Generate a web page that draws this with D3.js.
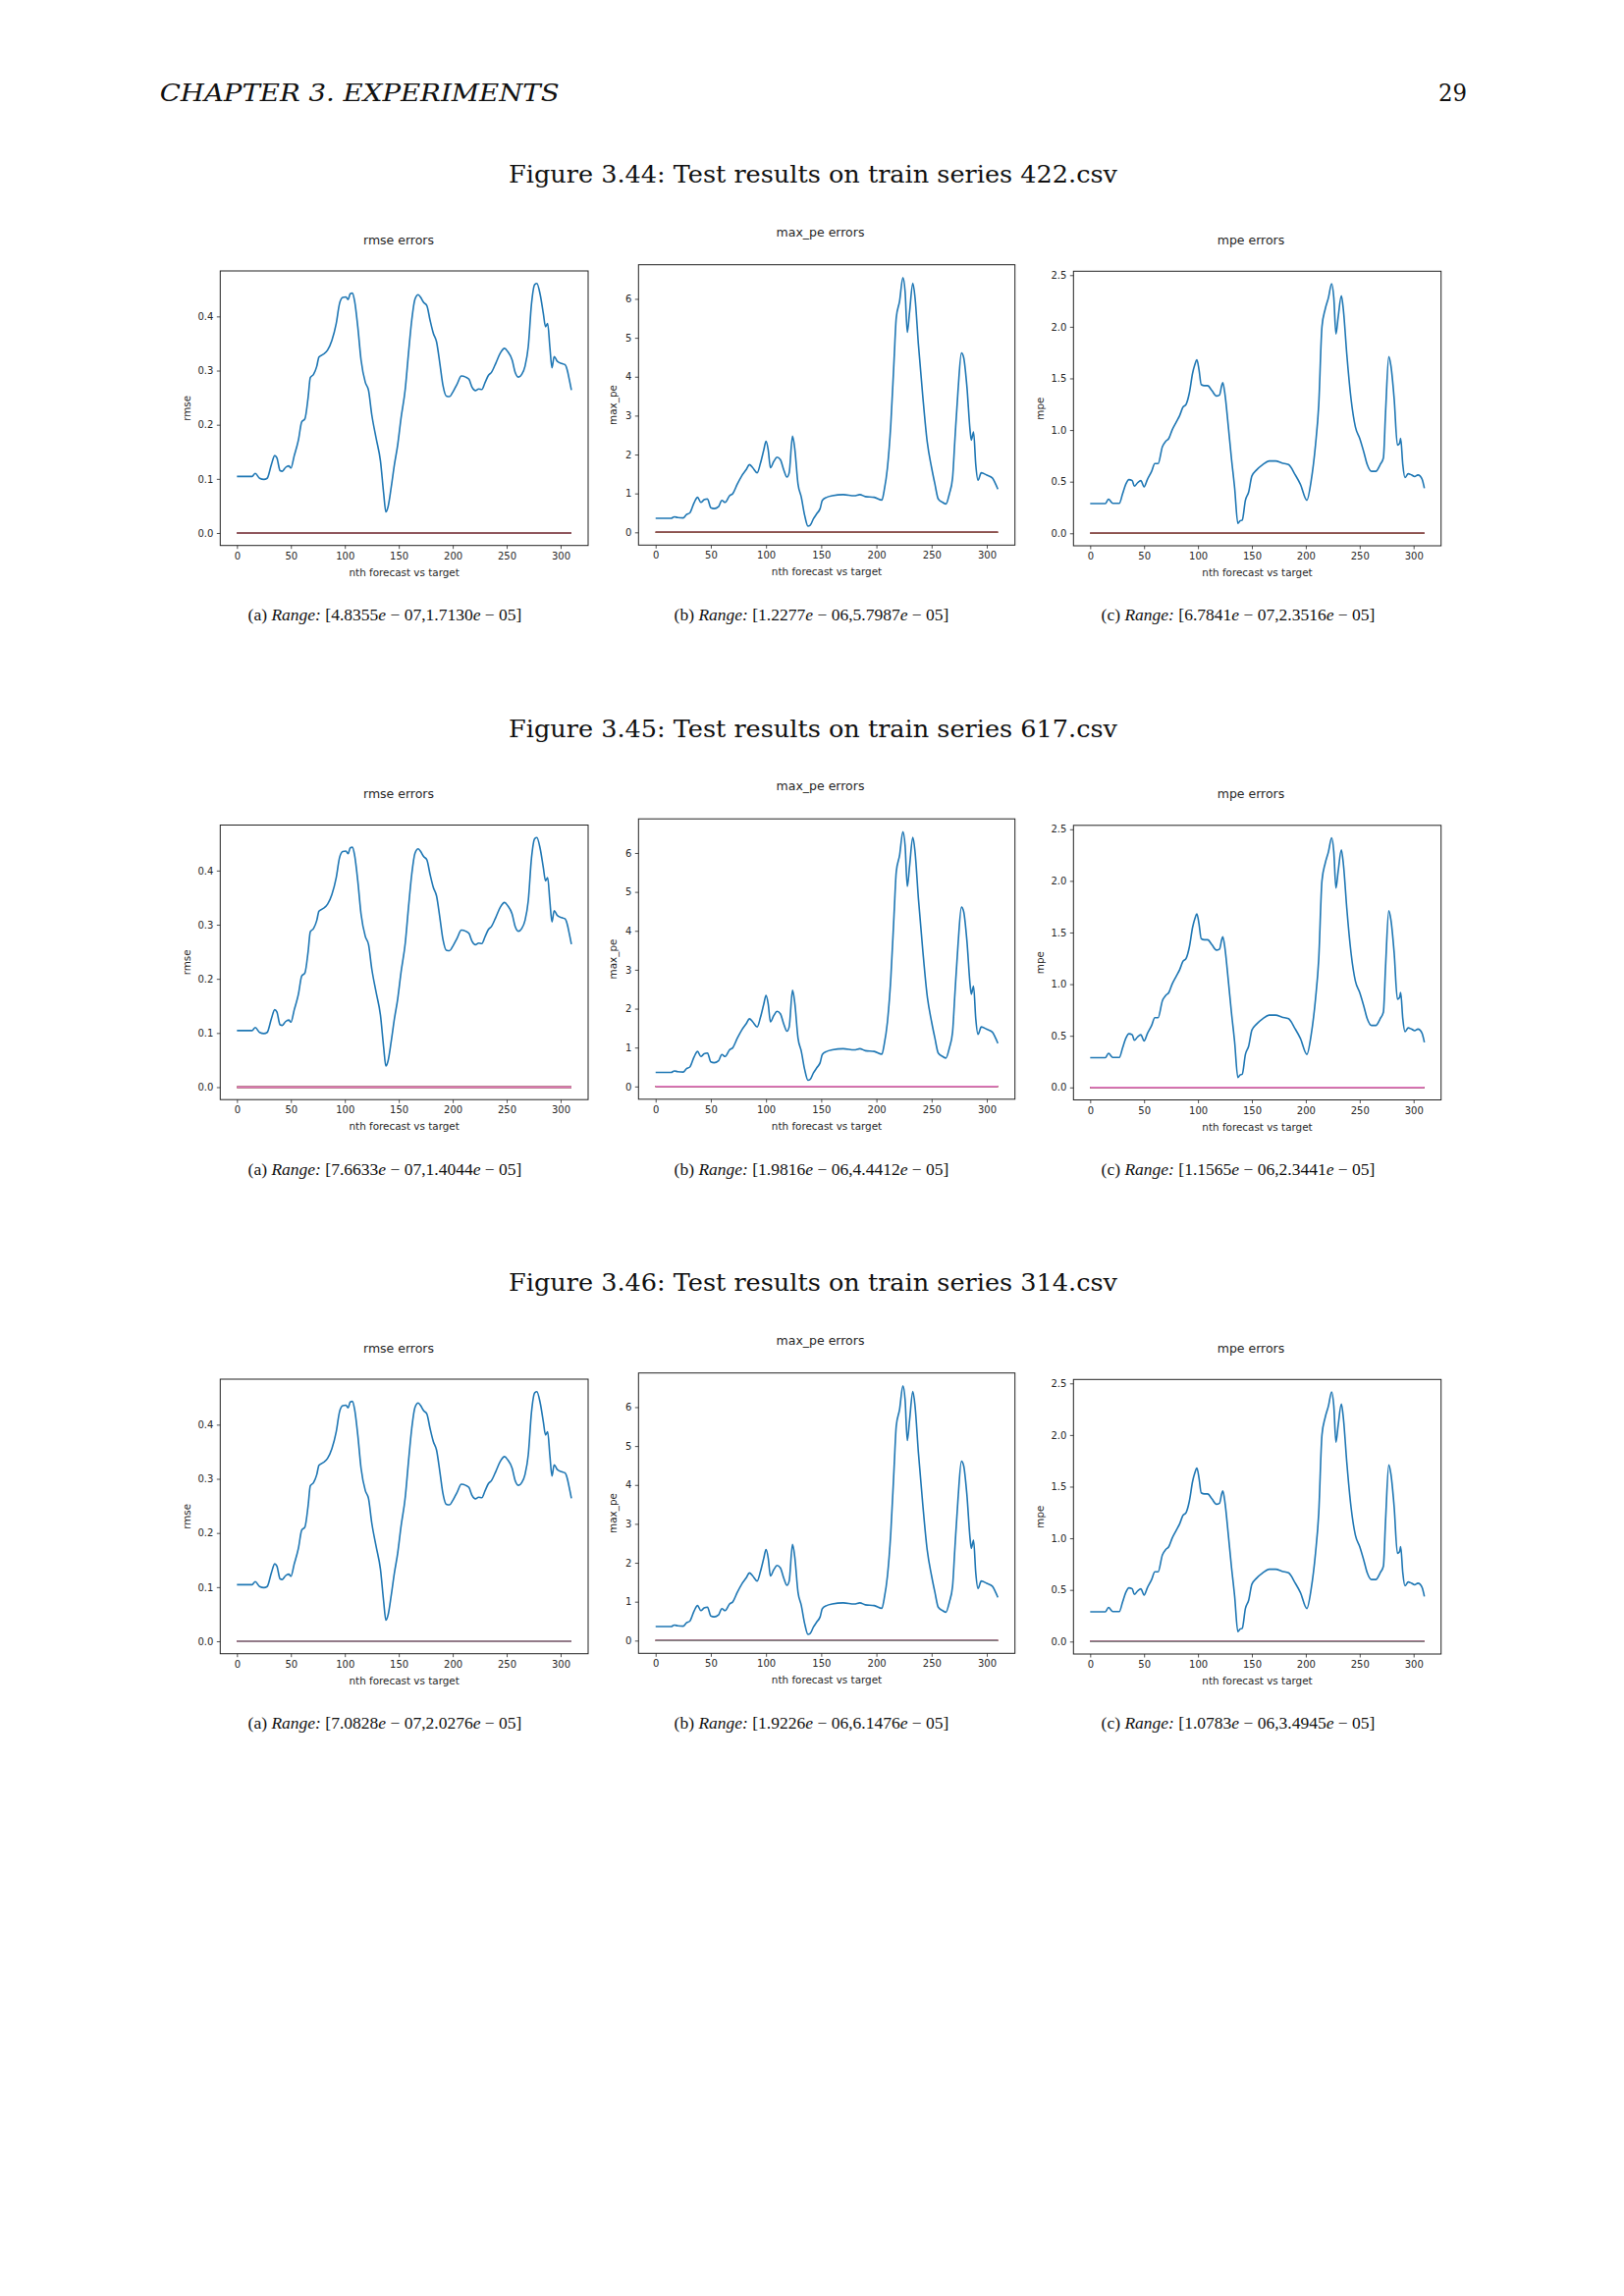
<!DOCTYPE html>
<html>
<head>
<meta charset="utf-8">
<script src="https://cdn.jsdelivr.net/npm/d3@7"></script>
<style>
  body { margin: 0; background: #fff; }
  svg { display: block; }
  .tick text { font-family: "DejaVu Sans", sans-serif; font-size: 10px; fill: #262626; }
  .tick line { stroke: #262626; stroke-width: 0.8; }
  .mpl { font-family: "DejaVu Sans", sans-serif; fill: #262626; }
  .tex { font-family: "DejaVu Serif", serif; fill: #111; }
  .sub { font-family: "Liberation Serif", "Times New Roman", serif; fill: #111; }
</style>
</head>
<body>
<div id="page"></div>
<script>
// page size
const width = 1654;
const height = 2339;

// --- data (same three curves on every figure) ---
const rmseData = [
  [0,0.1045],[14,0.1045],[17,0.110],[21,0.101],[25,0.099],[28,0.101],[32,0.127],[35,0.143],
  [37,0.139],[40,0.115],[42,0.114],[45,0.121],[48,0.124],[50,0.120],[53,0.142],[57,0.172],
  [60,0.205],[63,0.211],[66,0.251],[68,0.287],[71,0.293],[74,0.308],[76,0.325],[80,0.330],
  [84,0.338],[88,0.356],[92,0.387],[95,0.423],[98,0.435],[101,0.436],[103,0.431],[105,0.442],
  [107,0.443],[109,0.429],[112,0.381],[115,0.320],[119,0.278],[122,0.263],[125,0.218],[129,0.175],
  [133,0.133],[136,0.073],[138,0.039],[140,0.048],[143,0.085],[146,0.127],[149,0.163],[152,0.211],
  [156,0.266],[159,0.332],[162,0.393],[165,0.432],[168,0.440],[170,0.436],[173,0.426],[176,0.420],
  [179,0.393],[182,0.369],[185,0.353],[188,0.314],[191,0.272],[194,0.253],[197,0.252],[200,0.260],
  [204,0.275],[208,0.290],[212,0.288],[215,0.284],[218,0.269],[221,0.263],[224,0.266],[227,0.265],
  [230,0.278],[233,0.291],[236,0.297],[240,0.314],[244,0.332],[248,0.341],[251,0.335],[255,0.320],
  [258,0.296],[261,0.288],[264,0.293],[267,0.308],[270,0.344],[273,0.423],[276,0.459],[278,0.461],
  [281,0.441],[284,0.405],[286,0.381],[288,0.387],[290,0.344],[292,0.305],[294,0.326],[297,0.317],
  [301,0.313],[304,0.311],[306,0.302],[308,0.284],[310,0.264]
];

const maxPeData = [
  [0,0.36],[14,0.36],[17,0.40],[20,0.38],[25,0.37],[28,0.46],[31,0.50],[35,0.77],[38,0.90],
  [41,0.77],[44,0.84],[47,0.86],[50,0.63],[53,0.61],[57,0.66],[60,0.82],[63,0.77],[67,0.94],
  [70,1.00],[74,1.24],[78,1.45],[82,1.61],[85,1.74],[88,1.66],[92,1.53],[95,1.78],[98,2.12],
  [100,2.34],[102,2.12],[104,1.66],[107,1.82],[110,1.93],[113,1.87],[116,1.61],[119,1.42],
  [121,1.53],[124,2.47],[126,2.16],[129,1.24],[132,0.90],[135,0.44],[138,0.16],[140,0.18],
  [143,0.35],[146,0.48],[149,0.61],[151,0.82],[155,0.90],[160,0.94],[170,0.97],[180,0.94],
  [185,0.97],[190,0.92],[198,0.90],[205,0.83],[207,1.07],[210,1.66],[213,2.75],[216,4.43],
  [218,5.52],[221,5.94],[224,6.55],[226,6.19],[228,5.14],[230,5.65],[233,6.40],[235,6.03],
  [238,4.85],[242,3.50],[246,2.33],[250,1.66],[253,1.24],[256,0.86],[260,0.77],[263,0.73],
  [266,0.98],[269,1.40],[271,2.33],[274,3.67],[277,4.61],[279,4.50],[282,3.74],[285,2.58],
  [286,2.37],[288,2.58],[290,1.74],[292,1.34],[295,1.53],[300,1.47],[305,1.40],[308,1.24],[310,1.11]
];

const mpeData = [
  [0,0.288],[14,0.288],[17,0.33],[21,0.29],[27,0.29],[30,0.38],[33,0.475],[36,0.52],[39,0.51],
  [41,0.456],[44,0.49],[47,0.51],[50,0.45],[53,0.52],[57,0.60],[60,0.675],[63,0.675],[67,0.84],
  [70,0.89],[73,0.92],[76,1.00],[80,1.08],[83,1.14],[86,1.22],[89,1.25],[92,1.36],[95,1.55],
  [97,1.63],[99,1.68],[101,1.58],[103,1.44],[106,1.43],[109,1.43],[113,1.38],[117,1.33],
  [120,1.34],[122,1.43],[123,1.46],[125,1.35],[128,1.05],[131,0.73],[134,0.44],[137,0.095],
  [139,0.12],[141,0.127],[144,0.32],[147,0.40],[150,0.555],[154,0.61],[160,0.665],[166,0.70],
  [172,0.70],[178,0.68],[184,0.665],[190,0.57],[195,0.475],[201,0.32],[205,0.51],[209,0.855],
  [212,1.24],[215,2.00],[218,2.17],[221,2.28],[224,2.417],[226,2.28],[228,1.93],[230,2.09],
  [233,2.30],[235,2.15],[238,1.74],[242,1.30],[246,1.03],[250,0.92],[254,0.78],[257,0.665],
  [261,0.60],[265,0.60],[269,0.665],[272,0.73],[274,1.17],[277,1.71],[279,1.62],[282,1.30],
  [285,0.855],[287,0.87],[288,0.92],[290,0.665],[292,0.54],[295,0.577],[298,0.565],[301,0.55],
  [304,0.565],[306,0.555],[308,0.52],[310,0.437]
];

// near-zero series drawn along the bottom (start / end of the forecast index)
const zeroSeries = [[0, 0], [310, 0]];

// figures on the page
const figureNumbers = ["3.44", "3.45", "3.46"];
const seriesFiles = ["422.csv", "617.csv", "314.csv"];
const zeroSeriesCount = [5, 6, 7];   // lines lying on 0 (the last one is on top)
const rangesA = [["4.8355","07","1.7130","05"], ["7.6633","07","1.4044","05"], ["7.0828","07","2.0276","05"]];
const rangesB = [["1.2277","06","5.7987","05"], ["1.9816","06","4.4412","05"], ["1.9226","06","6.1476","05"]];
const rangesC = [["6.7841","07","2.3516","05"], ["1.1565","06","2.3441","05"], ["1.0783","06","3.4945","05"]];

// panels (metric names, ticks)
const panelNames = ["rmse", "max_pe", "mpe"];
const panelLetters = ["a", "b", "c"];
const rmseTicks = [0, 0.1, 0.2, 0.3, 0.4];
const maxPeTicks = [0, 1, 2, 3, 4, 5, 6];
const mpeTicks = [0, 0.5, 1.0, 1.5, 2.0, 2.5];
const xTicks = [0, 50, 100, 150, 200, 250, 300];

// --- layout (first row; the other rows are shifted down) ---
const rowStep = 564.5;
const panelBoxes = [
  { left: 224.3, right: 599.0, top: 276.0, bottom: 555.7, titleX: 406, titleY: 248.5, ylabX: 194, capX: 392 },
  { left: 650.3, right: 1033.7, top: 269.7, bottom: 555.3, titleX: 835.5, titleY: 240.5, ylabX: 628, capX: 826.5 },
  { left: 1093.3, right: 1467.7, top: 276.3, bottom: 556.0, titleX: 1274, titleY: 248.5, ylabX: 1063, capX: 1261 }
];

const colors = d3.schemeCategory10;

const svg = d3.select("#page")
  .append("svg")
  .attr("width", width)
  .attr("height", height);

svg.append("rect").attr("width", width).attr("height", height).attr("fill", "#fff");

// running head
svg.append("text")
  .attr("class", "tex")
  .attr("x", 162.7).attr("y", 103)
  .attr("font-size", 25)
  .attr("font-style", "italic")
  .attr("textLength", 407)
  .attr("lengthAdjust", "spacingAndGlyphs")
  .text("CHAPTER 3.  EXPERIMENTS");

svg.append("text")
  .attr("class", "tex")
  .attr("x", 1494).attr("y", 103)
  .attr("text-anchor", "end")
  .attr("font-size", 25)
  .attr("textLength", 29)
  .attr("lengthAdjust", "spacingAndGlyphs")
  .text("29");

const panelData = [rmseData, maxPeData, mpeData];
const panelTicks = [rmseTicks, maxPeTicks, mpeTicks];
const tickFormats = [d3.format(".1f"), d3.format("d"), d3.format(".1f")];
const panelRanges = [rangesA, rangesB, rangesC];

figureNumbers.forEach((num, r) => {
  const dy = r * rowStep;

  // figure caption
  svg.append("text")
    .attr("class", "tex")
    .attr("x", 518).attr("y", 186 + dy)
    .attr("font-size", 24)
    .attr("textLength", 620)
    .attr("lengthAdjust", "spacingAndGlyphs")
    .text(`Figure ${num}: Test results on train series ${seriesFiles[r]}`);

  panelNames.forEach((name, p) => {
    const b = panelBoxes[p];
    const data = panelData[p];
    const top = b.top + dy, bottom = b.bottom + dy;

    // matplotlib-like 5% margins
    const xExt = [0, 310];
    const yExt = [0, d3.max(data, d => d[1])];
    const xPad = (xExt[1] - xExt[0]) * 0.05;
    const yPad = (yExt[1] - yExt[0]) * 0.05;

    const x = d3.scaleLinear().domain([xExt[0] - xPad, xExt[1] + xPad]).range([b.left, b.right]);
    const y = d3.scaleLinear().domain([yExt[0] - yPad, yExt[1] + yPad]).range([bottom, top]);

    const g = svg.append("g");

    const line = d3.line()
      .x(d => x(d[0]))
      .y(d => y(d[1]))
      .curve(d3.curveMonotoneX);

    // main curve
    g.append("path")
      .datum(data)
      .attr("d", line)
      .attr("fill", "none")
      .attr("stroke", colors[0])
      .attr("stroke-width", 1.6)
      .attr("stroke-linejoin", "round");

    // the other series sit on zero
    for (let k = 1; k <= zeroSeriesCount[r]; k++) {
      g.append("path")
        .datum(zeroSeries)
        .attr("d", d3.line().x(d => x(d[0])).y(d => y(d[1])))
        .attr("fill", "none")
        .attr("stroke", colors[k])
        .attr("stroke-width", 1.6);
    }

    // axes
    const xAxis = d3.axisBottom(x).tickValues(xTicks).tickSize(3.5).tickPadding(3.5);
    const yAxis = d3.axisLeft(y).tickValues(panelTicks[p]).tickSize(3.5).tickPadding(3.5)
      .tickFormat(tickFormats[p]);

    g.append("g").attr("transform", `translate(0,${bottom})`).call(xAxis)
      .call(s => s.select(".domain").remove());
    g.append("g").attr("transform", `translate(${b.left},0)`).call(yAxis)
      .call(s => s.select(".domain").remove());

    // spines
    g.append("rect")
      .attr("x", b.left).attr("y", top)
      .attr("width", b.right - b.left).attr("height", bottom - top)
      .attr("fill", "none")
      .attr("stroke", "#222")
      .attr("stroke-width", 1);

    // title and labels
    g.append("text")
      .attr("class", "mpl")
      .attr("x", b.titleX).attr("y", b.titleY + dy)
      .attr("text-anchor", "middle")
      .attr("font-size", 12.5)
      .text(`${name} errors`);

    g.append("text")
      .attr("class", "mpl")
      .attr("x", (b.left + b.right) / 2).attr("y", bottom + 31)
      .attr("text-anchor", "middle")
      .attr("font-size", 10.4)
      .text("nth forecast vs target");

    g.append("text")
      .attr("class", "mpl")
      .attr("transform", `translate(${b.ylabX},${(top + bottom) / 2}) rotate(-90)`)
      .attr("text-anchor", "middle")
      .attr("font-size", 10.4)
      .text(name);

    // sub caption: (a) Range: [..e − 07,..e − 05]
    const rg = panelRanges[p][r];
    const cap = g.append("text")
      .attr("class", "sub")
      .attr("x", b.capX).attr("y", 632 + dy)
      .attr("text-anchor", "middle")
      .attr("font-size", 17.5);
    cap.append("tspan").text(`(${panelLetters[p]}) `);
    cap.append("tspan").attr("font-style", "italic").text("Range:");
    cap.append("tspan").text(` [${rg[0]}`);
    cap.append("tspan").attr("font-style", "italic").text("e");
    cap.append("tspan").text(` \u2212 ${rg[1]},${rg[2]}`);
    cap.append("tspan").attr("font-style", "italic").text("e");
    cap.append("tspan").text(` \u2212 ${rg[3]}]`);
  });
});
</script>
</body>
</html>
